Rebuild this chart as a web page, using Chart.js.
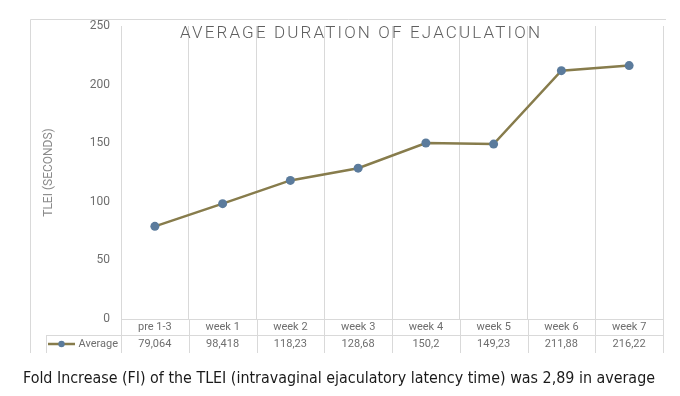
<!DOCTYPE html>
<html>
<head>
<meta charset="utf-8">
<script src="https://cdn.jsdelivr.net/npm/chart.js@4"></script>
<style>
  html, body { margin: 0; padding: 0; background: #fff; }
  #wrap { position: relative; width: 680px; height: 396px; overflow: hidden; }
  #cap { position: absolute; left: 23px; top: 368px; white-space: nowrap;
         font-family: "Liberation Sans Narrow", "DejaVu Sans Condensed", "Roboto", sans-serif;
         font-size: 16px; color: #1a1a1a; transform-origin: 0 0; line-height: 20px; }
</style>
</head>
<body>
<div id="wrap">
  <canvas id="c" width="680" height="396"></canvas>
  <span id="cap">Fold Increase (FI) of the TLEI (intravaginal ejaculatory latency time) was 2,89 in average</span>
</div>
<script>
const chartTitle = "AVERAGE DURATION OF EJACULATION";
const yAxisTitle = "TLEI (SECONDS)";
const seriesName = "Average";
const categories = ["pre 1-3", "week 1", "week 2", "week 3", "week 4", "week 5", "week 6", "week 7"];
const averageValues = [79.064, 98.418, 118.23, 128.68, 150.2, 149.23, 211.88, 216.22];
const yTicks = [0, 50, 100, 150, 200, 250];

const lineColor = "#877c4c";
const markerColor = "#5b7b9c";
const gridColor = "#d9d9d9";
const textColor = "#6e6e6e";
const FONT = "Roboto, 'Liberation Sans', sans-serif";

function fmt(v) { return String(v).replace('.', ','); }

const tablePlugin = {
  id: 'tablePlugin',
  afterDraw(chart) {
    const ctx = chart.ctx;
    const x = chart.scales.x;
    const area = chart.chartArea;
    const row1Top = area.bottom;
    const row2Top = area.bottom + 16;
    const tableBottom = area.bottom + 34;
    const legendLeft = 46.5;
    ctx.save();
    ctx.strokeStyle = gridColor;
    ctx.lineWidth = 1;
    ctx.beginPath();
    ctx.moveTo(30.5, tableBottom);
    ctx.lineTo(30.5, 19.5);
    ctx.lineTo(666, 19.5);
    ctx.stroke();
    const n = categories.length;
    ctx.beginPath();
    for (let i = 0; i <= n; i++) {
      const px = Math.round(x.getPixelForValue(i - 0.5)) + 0.5;
      ctx.moveTo(px, row1Top);
      ctx.lineTo(px, tableBottom);
    }
    ctx.moveTo(legendLeft, row2Top + 0.5);
    ctx.lineTo(Math.round(x.getPixelForValue(n - 0.5)) + 0.5, row2Top + 0.5);
    ctx.moveTo(legendLeft, row2Top);
    ctx.lineTo(legendLeft, tableBottom);
    ctx.stroke();

    ctx.fillStyle = textColor;
    ctx.font = "11px " + FONT;
    ctx.textAlign = 'center';
    ctx.textBaseline = 'middle';
    const rowMid = row2Top + 9;
    averageValues.forEach((v, i) => {
      ctx.fillText(fmt(v), x.getPixelForValue(i), rowMid);
    });

    ctx.strokeStyle = lineColor;
    ctx.lineWidth = 2.5;
    ctx.beginPath();
    ctx.moveTo(48, rowMid);
    ctx.lineTo(75, rowMid);
    ctx.stroke();
    ctx.fillStyle = markerColor;
    ctx.beginPath();
    ctx.arc(61.5, rowMid, 3.2, 0, Math.PI * 2);
    ctx.fill();
    ctx.fillStyle = textColor;
    ctx.textAlign = 'right';
    ctx.fillText(seriesName, 118, rowMid);

    ctx.font = "300 17px " + FONT;
    ctx.textAlign = 'left';
    ctx.textBaseline = 'alphabetic';
    ctx.fillStyle = "#5f5f5f";
    ctx.letterSpacing = '0px';
    const w0 = ctx.measureText(chartTitle).width;
    const sp = (360 - w0) / (chartTitle.length - 1);
    ctx.letterSpacing = sp + 'px';
    ctx.fillText(chartTitle, 180, 38);
    ctx.restore();
  }
};

new Chart(document.getElementById('c'), {
  type: 'line',
  data: {
    labels: categories,
    datasets: [{
      label: seriesName,
      data: averageValues,
      borderColor: lineColor,
      borderWidth: 2.5,
      backgroundColor: markerColor,
      pointBackgroundColor: markerColor,
      pointBorderColor: markerColor,
      pointRadius: 4.5,
      pointBorderWidth: 0,
      tension: 0,
      fill: false
    }]
  },
  options: {
    responsive: false,
    animation: false,
    devicePixelRatio: 1,
    layout: { padding: { top: 26, right: 17, left: 0, bottom: 0 } },
    plugins: { legend: { display: false }, title: { display: false }, tooltip: { enabled: false } },
    scales: {
      x: {
        type: 'category',
        offset: true,
        grid: { display: true, offset: true, color: gridColor, drawTicks: false, lineWidth: 1 },
        border: { display: true, color: gridColor },
        ticks: { color: textColor, font: { size: 11, family: FONT }, padding: 2, maxRotation: 0, autoSkip: false },
        afterFit(s) { s.height = 77; }
      },
      y: {
        min: 0, max: 250,
        afterBuildTicks(s) { s.ticks = yTicks.map(v => ({ value: v })); },
        grid: { display: false, drawTicks: false },
        border: { display: false },
        ticks: { color: textColor, font: { size: 12, family: FONT }, padding: 11 },
        title: { display: true, text: yAxisTitle, color: "#8a8a8a", font: { size: 12, family: FONT }, padding: { top: 42, bottom: 0 } },
        afterFit(s) { s.width = 121; }
      }
    }
  },
  plugins: [tablePlugin]
});

(function fitCaption() {
  const cap = document.getElementById('cap');
  const w = cap.getBoundingClientRect().width;
  cap.style.transform = 'scaleX(' + (632 / w) + ')';
})();
</script>
</body>
</html>
